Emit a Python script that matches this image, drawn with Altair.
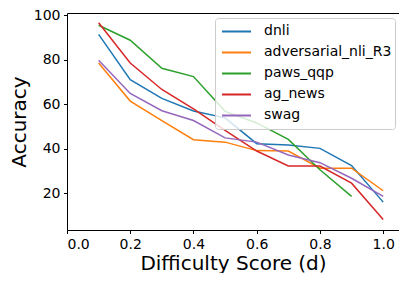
import altair as alt
import pandas as pd

difficulty = [0.1, 0.2, 0.3, 0.4, 0.5, 0.6, 0.7, 0.8, 0.9, 1.0]
series_names = ["dnli", "adversarial_nli_R3", "paws_qqp", "ag_news", "swag"]
dnli = [91.3, 71.0, 62.6, 57.0, 53.9, 42.3, 41.7, 40.2, 32.5, 16.1]
adversarial_nli_R3 = [78.5, 61.4, 52.6, 44.1, 43.0, 39.2, 39.0, 31.3, 31.3, 21.2]
paws_qqp = [95.4, 88.7, 76.1, 72.4, 56.8, 51.6, 44.2, 30.6, 18.7]
ag_news = [96.5, 78.5, 66.6, 57.9, 48.3, 39.0, 32.3, 32.3, 24.6, 8.3]
swag = [79.7, 64.8, 57.1, 52.7, 44.9, 43.0, 37.2, 33.8, 26.8, 18.7]
colors = ["#1f77b4", "#ff7f0e", "#2ca02c", "#d62728", "#9467bd"]
x_ticks = [0.0, 0.2, 0.4, 0.6, 0.8, 1.0]
y_ticks = [20, 40, 60, 80, 100]

rows = []
for name, vals in zip(series_names, [dnli, adversarial_nli_R3, paws_qqp, ag_news, swag]):
    for d, v in zip(difficulty, vals):
        rows.append({"d": d, "acc": v, "series": name})
df = pd.DataFrame(rows)

FONT = "DejaVu Sans"

chart = alt.Chart(df).mark_line(strokeWidth=1.5).encode(
    x=alt.X("d:Q",
            scale=alt.Scale(domain=[0, 1.05], nice=False, zero=False),
            axis=alt.Axis(values=x_ticks, format=".1f", title="Difficulty Score (d)",
                          titlePadding=2)),
    y=alt.Y("acc:Q",
            scale=alt.Scale(domain=[3.6, 100.9], nice=False, zero=False),
            axis=alt.Axis(values=y_ticks, title="Accuracy", titlePadding=4)),
    color=alt.Color("series:N",
                    scale=alt.Scale(domain=series_names, range=colors),
                    legend=alt.Legend(title=None, orient="none", legendX=148, legendY=5,
                                      symbolType="stroke", symbolSize=841,
                                      symbolStrokeWidth=2, clipHeight=20.8,
                                      rowPadding=0, labelOffset=12, symbolOffset=3,
                                      padding=3, labelFontSize=14, labelFont=FONT,
                                      labelColor="black",
                                      fillColor="rgba(255,255,255,0.8)",
                                      strokeColor="#cccccc", cornerRadius=3)),
).properties(
    width=332, height=217,
    autosize=alt.AutoSizeParams(type="none"),
    padding={"left": 59, "top": 5, "right": 0, "bottom": 43},
).configure_view(
    stroke="black", strokeWidth=1
).configure_axis(
    grid=False, domain=False, tickColor="black", tickSize=3.5, tickWidth=1,
    labelFont=FONT, labelFontSize=14, labelColor="black", labelPadding=3.5,
    titleFont=FONT, titleFontSize=20, titleFontWeight="normal", titleColor="black",
)

chart.save("out.html", embed_options={"renderer": "svg", "actions": False})
